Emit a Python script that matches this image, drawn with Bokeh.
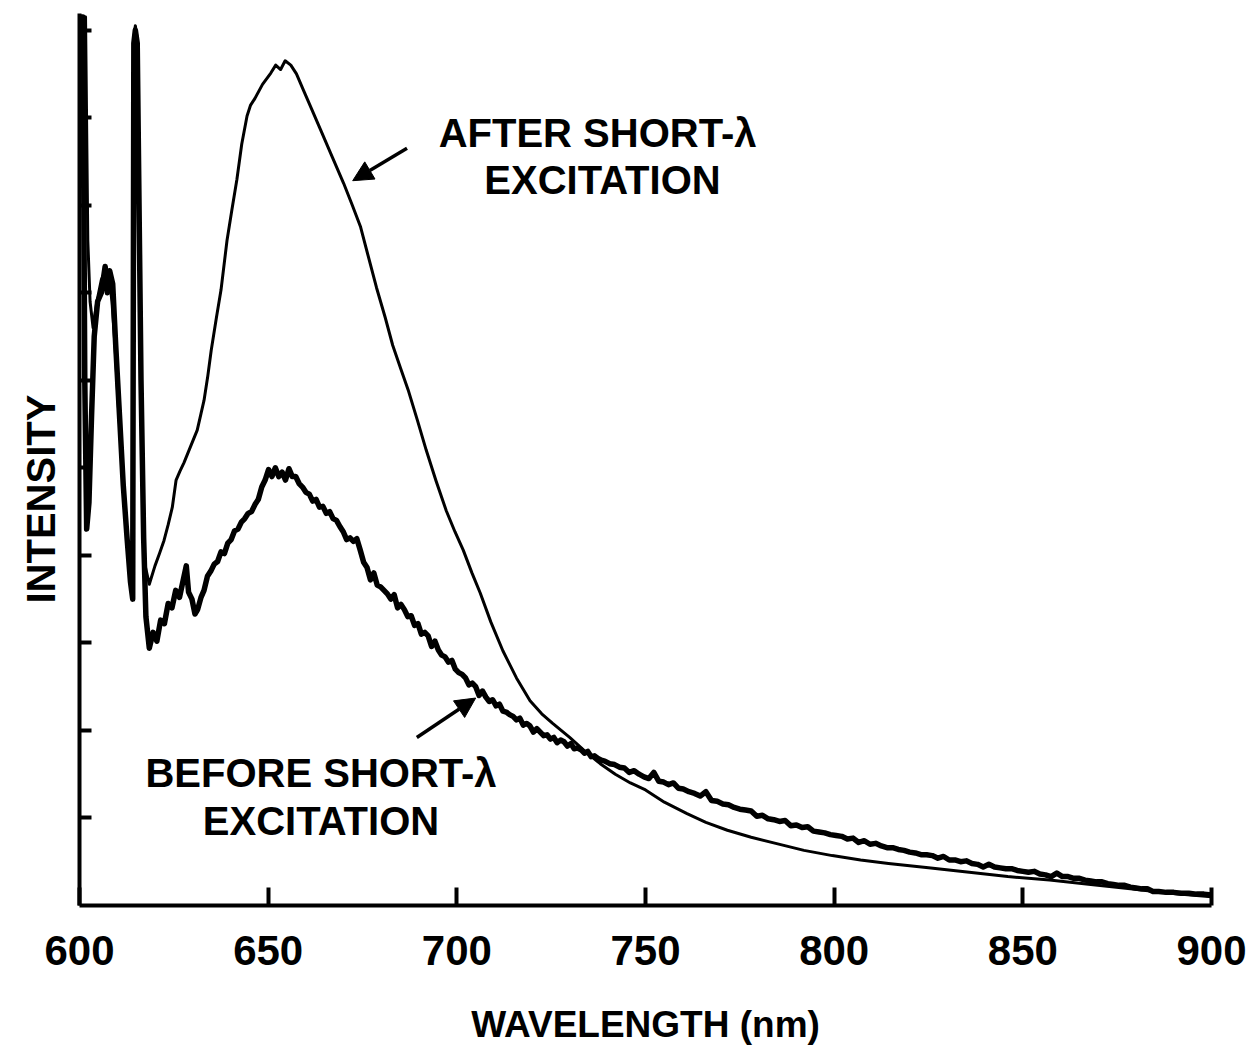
from bokeh.plotting import figure
from bokeh.models import Label, Arrow, NormalHead, FixedTicker, Title
from bokeh.embed import file_html
from bokeh.resources import INLINE

# Emission spectra: wavelength (nm) and intensity (arbitrary units, 1 per left tick)
after_nm = [600.0, 601.6, 602.2, 602.8, 603.6, 604.6, 605.8, 606.8, 607.8, 608.6,
            609.4, 610.3, 611.3, 612.3, 613.3, 614.0, 614.4, 614.8, 615.3, 616.3,
            617.3, 618.5, 620.0, 621.2, 622.4, 623.5, 624.6, 625.6, 626.6, 627.7,
            629.5, 631.2, 632.2, 633.0, 634.0, 634.9, 636.3, 637.5, 639.1, 640.4,
            641.7, 643.0, 644.4, 645.3, 646.5, 648.5, 650.7, 652.0, 653.3, 654.5,
            656.0, 657.5, 659.4, 661.5, 663.9, 667.0, 670.0, 672.3, 674.5, 676.5,
            678.7, 681.0, 683.0, 685.0, 687.1, 689.5, 691.9, 694.5, 697.2, 699.5,
            701.7, 704.0, 706.2, 709.0, 712.2, 715.8, 719.4, 722.5, 725.4, 729.9,
            734.0, 738.0, 742.0, 746.0, 750.0, 755.0, 761.0, 766.0, 771.7, 778.0,
            784.5, 792.0, 799.5, 807.0, 814.4, 825.0, 835.8, 846.0, 857.1, 868.0,
            878.5, 889.0, 900.0]
after_val = [10.15, 10.15, 7.6, 6.9, 6.6, 6.9, 7.15, 7.25, 7.2, 6.9,
             6.4, 5.7, 5.0, 4.4, 3.9, 3.65, 9.9, 10.05, 9.9, 6.0,
             3.9, 3.67, 3.88, 4.02, 4.17, 4.35, 4.55, 4.86, 4.96, 5.06,
             5.25, 5.43, 5.62, 5.77, 6.05, 6.34, 6.72, 7.03, 7.6, 7.95,
             8.29, 8.70, 9.02, 9.14, 9.22, 9.38, 9.51, 9.60, 9.55, 9.65,
             9.60, 9.50, 9.31, 9.10, 8.86, 8.55, 8.25, 8.00, 7.75, 7.42,
             7.06, 6.72, 6.40, 6.15, 5.89, 5.55, 5.20, 4.85, 4.51, 4.27,
             4.06, 3.80, 3.57, 3.24, 2.91, 2.60, 2.34, 2.19, 2.08, 1.92,
             1.76, 1.62, 1.50, 1.40, 1.32, 1.18, 1.05, 0.95, 0.86, 0.78,
             0.71, 0.63, 0.57, 0.52, 0.48, 0.43, 0.38, 0.33, 0.29, 0.24,
             0.19, 0.14, 0.10]

before_nm = [600.0, 600.9, 601.4, 601.9, 602.5, 603.2, 603.9, 604.8, 605.8, 606.8,
             607.4, 608.0, 608.8, 609.6, 610.6, 611.6, 612.6, 613.5, 614.1, 614.4,
             614.8, 615.3, 616.3, 617.0, 617.6, 618.5, 619.5, 620.5, 621.5, 622.5,
             623.5, 624.5, 625.5, 626.5, 627.5, 628.3, 628.9, 629.8, 630.6, 631.3,
             632.2, 633.0, 633.9, 634.8, 635.7, 636.6, 637.5, 638.4, 639.3, 640.2,
             641.1, 642.0, 642.9, 643.8, 644.7, 645.6, 646.5, 647.4, 648.3, 649.2,
             650.1, 651.0, 651.9, 652.8, 653.7, 654.6, 655.5, 656.4, 657.3, 658.2,
             659.1, 660.0, 660.9, 661.8, 662.7, 663.6, 664.5, 665.4, 666.3, 667.2,
             668.1, 669.0, 669.9, 670.8, 671.7, 672.6, 673.5, 674.4, 675.3, 676.2,
             677.1, 678.0, 678.9, 679.8, 680.7, 681.6, 682.5, 683.4, 684.3, 685.2,
             686.1, 687.0, 687.9, 688.8, 689.7, 690.6, 691.5, 692.4, 693.3, 694.2,
             695.1, 696.0, 696.9, 697.8, 698.7, 699.6, 700.5, 701.4, 702.3, 703.2,
             704.1, 705.0, 705.9, 706.8, 707.7, 708.6, 709.5, 710.4, 711.3, 712.2,
             713.1, 714.0, 714.9, 715.8, 716.7, 717.6, 718.5, 719.4, 720.3, 721.2,
             722.1, 723.0, 723.9, 724.8, 725.7, 726.6, 727.5, 728.4, 729.3, 730.2,
             731.1, 732.0, 732.9, 733.8, 734.7, 735.6, 736.5, 737.4, 738.3, 739.2,
             740.5, 741.8, 743.1, 744.4, 745.7, 747.0, 748.3, 749.6, 750.9, 752.2,
             753.5, 754.8, 756.1, 757.4, 758.7, 760.0, 761.5, 763.0, 764.5, 766.0,
             767.5, 769.0, 770.5, 772.0, 773.5, 775.0, 776.5, 778.0, 779.5, 781.0,
             782.5, 784.0, 785.5, 787.0, 788.5, 790.0, 791.5, 793.0, 794.5, 796.0,
             797.5, 799.0, 800.5, 802.0, 803.5, 805.0, 806.5, 808.0, 809.5, 811.0,
             812.5, 814.0, 815.5, 817.0, 818.5, 820.0, 821.5, 823.0, 824.5, 826.0,
             827.5, 829.0, 830.5, 832.0, 833.5, 835.0, 836.5, 838.0, 839.5, 841.0,
             842.5, 844.0, 845.5, 847.0, 848.5, 850.0, 851.5, 853.0, 854.5, 856.0,
             857.5, 859.0, 860.5, 862.0, 863.5, 865.0, 866.5, 868.0, 869.5, 871.0,
             872.5, 874.0, 875.5, 877.0, 878.5, 880.0, 881.5, 883.0, 884.5, 886.0,
             888.0, 890.0, 892.0, 894.0, 896.0, 898.0, 900.0]
before_val = [10.15, 10.15, 6.0, 4.3, 4.6, 5.6, 6.5, 6.9, 7.0, 7.3,
              7.0, 7.25, 7.1, 6.4, 5.6, 4.8, 4.2, 3.7, 3.5, 9.85,
              10.0, 9.85, 6.0, 4.2, 3.3, 2.94, 3.12, 3.02, 3.26, 3.22,
              3.45, 3.40, 3.60, 3.52, 3.72, 3.88, 3.58, 3.50, 3.33, 3.38,
              3.52, 3.60, 3.76, 3.82, 3.90, 3.93, 4.04, 4.02, 4.14, 4.18,
              4.28, 4.30, 4.38, 4.42, 4.48, 4.50, 4.58, 4.64, 4.78, 4.86,
              4.98, 4.90, 5.00, 4.90, 4.95, 4.86, 4.99, 4.90, 4.90, 4.82,
              4.78, 4.72, 4.70, 4.62, 4.64, 4.55, 4.56, 4.48, 4.50, 4.42,
              4.40, 4.33, 4.27, 4.18, 4.20, 4.16, 4.19, 4.06, 3.92, 3.86,
              3.72, 3.80, 3.66, 3.64, 3.60, 3.56, 3.50, 3.55, 3.40, 3.44,
              3.38, 3.30, 3.31, 3.20, 3.22, 3.10, 3.12, 3.08, 2.96, 3.02,
              2.92, 2.86, 2.84, 2.78, 2.80, 2.70, 2.66, 2.64, 2.60, 2.52,
              2.54, 2.50, 2.40, 2.45, 2.38, 2.33, 2.35, 2.28, 2.30, 2.22,
              2.21, 2.18, 2.16, 2.12, 2.14, 2.06, 2.08, 2.05, 1.98, 2.02,
              1.98, 1.94, 1.95, 1.90, 1.92, 1.86, 1.89, 1.87, 1.82, 1.85,
              1.79, 1.80, 1.78, 1.74, 1.76, 1.70, 1.71, 1.68, 1.66, 1.65,
              1.62, 1.61, 1.58, 1.57, 1.52, 1.54, 1.50, 1.47, 1.45, 1.52,
              1.42, 1.41, 1.38, 1.40, 1.34, 1.33, 1.30, 1.28, 1.25, 1.30,
              1.20, 1.19, 1.16, 1.15, 1.12, 1.10, 1.09, 1.08, 1.02, 1.03,
              0.99, 0.98, 0.96, 0.97, 0.91, 0.92, 0.89, 0.90, 0.85, 0.84,
              0.83, 0.81, 0.80, 0.79, 0.76, 0.77, 0.72, 0.74, 0.70, 0.71,
              0.68, 0.66, 0.66, 0.64, 0.63, 0.61, 0.60, 0.58, 0.58, 0.57,
              0.54, 0.56, 0.52, 0.52, 0.50, 0.51, 0.48, 0.47, 0.44, 0.47,
              0.44, 0.43, 0.42, 0.42, 0.40, 0.39, 0.38, 0.39, 0.36, 0.35,
              0.33, 0.37, 0.33, 0.33, 0.31, 0.31, 0.29, 0.28, 0.27, 0.27,
              0.25, 0.24, 0.23, 0.23, 0.21, 0.20, 0.19, 0.19, 0.16, 0.16,
              0.15, 0.15, 0.14, 0.14, 0.13, 0.13, 0.12]

x_ticks = [600, 650, 700, 750, 800, 850, 900]
y_ticks = [1, 2, 3, 4, 5, 6, 7, 8, 9, 10]

FONT = "Liberation Sans"

p = figure(width=1250, height=1052, x_range=(600, 900), y_range=(0, 10.19),
           min_border_left=77, min_border_right=39, min_border_top=13,
           min_border_bottom=147, output_backend="svg", toolbar_location=None)
p.outline_line_color = None
p.grid.visible = False
p.background_fill_color = "white"
p.border_fill_color = "white"

# x axis: inward ticks, bold numbers
xa = p.xaxis[0]
xa.ticker = FixedTicker(ticks=x_ticks)
xa.minor_tick_line_color = None
xa.major_tick_in = 18
xa.major_tick_out = 0
xa.major_tick_line_width = 4
xa.major_tick_line_color = "black"
xa.axis_line_width = 4
xa.axis_line_color = "black"
xa.major_label_text_font = FONT
xa.major_label_text_font_style = "bold"
xa.major_label_text_font_size = "42px"
xa.major_label_text_color = "black"
xa.major_label_standoff = 30
xa.axis_label = "WAVELENGTH (nm)"
xa.axis_label_text_font = FONT
xa.axis_label_text_font_style = "bold"
xa.axis_label_text_font_size = "37px"
xa.axis_label_text_color = "black"
xa.axis_label_standoff = 36

# y axis: unlabeled inward ticks
ya = p.yaxis[0]
ya.ticker = FixedTicker(ticks=y_ticks)
ya.minor_tick_line_color = None
ya.major_tick_in = 12
ya.major_tick_out = 0
ya.major_tick_line_width = 4
ya.major_tick_line_color = "black"
ya.axis_line_width = 4
ya.axis_line_color = "black"
ya.major_label_overrides = {t: "" for t in y_ticks}
ya.major_label_standoff = 0

# vertical axis title on the left side, a little below centre
p.add_layout(Title(text="INTENSITY", align="left", offset=302, standoff=33,
                   text_font=FONT, text_font_style="bold", text_font_size="40px",
                   text_color="black"), "left")

p.line(after_nm, after_val, line_color="black", line_width=3, line_join="round")
p.line(before_nm, before_val, line_color="black", line_width=5.5, line_join="round")

def note(x, y, text):
    p.add_layout(Label(x=x, y=y, text=text, text_align="center", text_baseline="middle",
                       text_font=FONT, text_font_style="bold", text_font_size="40px",
                       text_color="black"))

note(737.3, 8.83, "AFTER SHORT-λ")
note(738.6, 8.29, "EXCITATION")
note(664.0, 1.51, "BEFORE SHORT-λ")
note(664.0, 0.97, "EXCITATION")

for (x0, y0, x1, y1) in [(686.8, 8.65, 672.4, 8.28), (689.4, 1.92, 705.0, 2.37)]:
    p.add_layout(Arrow(end=NormalHead(size=20, fill_color="black", line_color="black"),
                       x_start=x0, y_start=y0, x_end=x1, y_end=y1,
                       line_color="black", line_width=3.5))

open("out.html", "w").write(file_html(p, INLINE))
